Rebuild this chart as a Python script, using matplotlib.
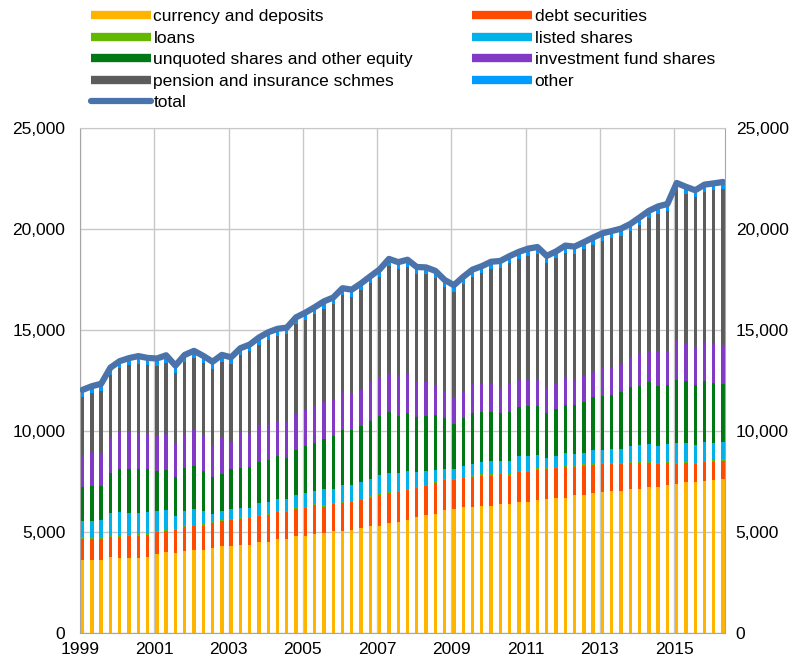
import numpy as np
import matplotlib
matplotlib.use("Agg")
import matplotlib.pyplot as plt
from matplotlib.lines import Line2D
from matplotlib.ticker import FuncFormatter, MultipleLocator

plt.rcParams['font.family'] = ['Liberation Sans', 'DejaVu Sans']

# quarterly data, 1999Q1 .. 2016Q2 (EUR billions)
years = list(range(1999, 2017, 2))

currency = [3630, 3630, 3630, 3750, 3700, 3700, 3730, 3770, 3930, 4000,
            3970, 4080, 4130, 4130, 4220, 4320, 4320, 4350, 4380, 4530,
            4530, 4670, 4670, 4800, 4830, 4930, 4970, 5080, 5080, 5130,
            5220, 5330, 5330, 5470, 5500, 5630, 5750, 5830, 5920, 6080,
            6170, 6250, 6250, 6300, 6300, 6380, 6380, 6500, 6500, 6580,
            6630, 6680, 6680, 6850, 6830, 6920, 6970, 7050, 7050, 7130,
            7130, 7250, 7250, 7330, 7380, 7470, 7470, 7520, 7580, 7630]
debt = [1050, 1030, 1030, 1020, 1070, 1100, 1100, 1100, 1070, 1070,
        1120, 1180, 1170, 1200, 1220, 1230, 1280, 1320, 1330, 1270,
        1330, 1330, 1330, 1330, 1380, 1400, 1300, 1330, 1380, 1370,
        1370, 1380, 1520, 1450, 1470, 1450, 1420, 1470, 1520, 1520,
        1430, 1420, 1500, 1500, 1500, 1500, 1420, 1470, 1470, 1520,
        1500, 1480, 1550, 1370, 1470, 1420, 1420, 1330, 1330, 1300,
        1300, 1180, 1130, 1100, 1000, 970, 920, 950, 920, 920]
loans = [60, 60, 60, 60, 60, 60, 60, 60, 60, 60,
         60, 60, 60, 60, 60, 60, 60, 60, 60, 60,
         60, 60, 60, 60, 60, 60, 60, 60, 60, 60,
         60, 60, 60, 60, 60, 60, 60, 60, 60, 60,
         60, 60, 60, 60, 60, 60, 60, 60, 60, 60,
         60, 60, 60, 60, 60, 60, 60, 60, 60, 60,
         60, 60, 60, 60, 60, 60, 60, 60, 60, 60]
listed = [810, 820, 870, 1140, 1170, 1110, 1070, 1070, 990, 960,
          660, 720, 810, 660, 390, 440, 470, 490, 440, 570,
          570, 570, 570, 640, 660, 660, 810, 690, 810, 770,
          820, 860, 940, 960, 910, 910, 740, 690, 560, 470,
          470, 540, 570, 640, 660, 610, 660, 720, 720, 640,
          490, 570, 640, 610, 570, 660, 640, 690, 690, 770,
          840, 860, 820, 860, 990, 940, 860, 940, 870, 860]
unquoted = [1670, 1750, 1700, 1950, 2130, 2170, 2170, 2130, 2000, 1970,
            1920, 2120, 2100, 2000, 1830, 1830, 2000, 1980, 2000, 2030,
            2100, 2120, 2030, 2220, 2330, 2380, 2500, 2600, 2720, 2720,
            2780, 2870, 2920, 3030, 2830, 2870, 2750, 2720, 2720, 2530,
            2250, 2400, 2530, 2470, 2450, 2370, 2450, 2430, 2520, 2470,
            2230, 2330, 2380, 2420, 2500, 2620, 2630, 2670, 2800, 2920,
            2930, 3070, 3000, 2920, 3120, 3030, 2970, 3000, 2950, 2870]
invfund = [1580, 1670, 1630, 1750, 1830, 1830, 1800, 1800, 1780, 1780,
           1670, 1720, 1780, 1750, 1620, 1830, 1330, 1750, 1720, 1830,
           1780, 1750, 1830, 1780, 1780, 1830, 1830, 1820, 1880, 1830,
           1800, 1920, 1900, 1920, 1980, 1920, 1780, 1650, 1530, 1330,
           1330, 1300, 1420, 1370, 1420, 1270, 1370, 1370, 1330, 1330,
           1270, 1250, 1330, 1250, 1320, 1300, 1420, 1330, 1420, 1450,
           1570, 1550, 1700, 1700, 1950, 1920, 1900, 2000, 1920, 1920]
pension = [2900, 2930, 3070, 3130, 3180, 3300, 3420, 3360, 3420, 3560,
           3500, 3570, 3580, 3570, 3750, 3730, 3850, 3800, 4020, 4000,
           4170, 4220, 4300, 4460, 4470, 4530, 4600, 4700, 4800, 4770,
           4930, 4900, 4980, 5300, 5270, 5290, 5280, 5350, 5270, 5150,
           5180, 5310, 5320, 5490, 5640, 5890, 5990, 5980, 6080, 6170,
           6140, 6190, 6200, 6220, 6270, 6260, 6300, 6440, 6330, 6270,
           6400, 6600, 6810, 6930, 7450, 7350, 7400, 7380, 7630, 7730]
other = [350, 340, 360, 350, 330, 350, 370, 340, 350, 360,
         350, 330, 350, 360, 350, 340, 350, 360, 340, 350,
         360, 350, 340, 350, 360, 350, 360, 340, 350, 360,
         340, 350, 360, 340, 350, 360, 350, 340, 360, 350,
         340, 360, 350, 340, 360, 350, 340, 350, 360, 350,
         360, 340, 350, 360, 340, 350, 360, 340, 350, 360,
         350, 340, 360, 350, 340, 360, 350, 360, 340, 350]

series = [
    ("currency and deposits", currency, "#FFB400"),
    ("debt securities", debt, "#FF4B00"),
    ("loans", loans, "#65B800"),
    ("listed shares", listed, "#00B1EA"),
    ("unquoted shares and other equity", unquoted, "#007816"),
    ("investment fund shares", invfund, "#8139C6"),
    ("pension and insurance schmes", pension, "#5C5C5C"),
    ("other", other, "#009BFF"),
]
total_color = "#4A73AB"

n = len(currency)
x = np.arange(n)
barw = 0.36

fig = plt.figure(figsize=(7.92, 6.61), dpi=100)
ax = fig.add_axes([0.101, 0.042, 0.814, 0.764])

bottom = np.zeros(n)
for name, vals, col in series:
    vals = np.array(vals, dtype=float)
    ax.bar(x + 0.1, vals, width=barw, bottom=bottom, color=col,
           align='edge', linewidth=0, zorder=2)
    bottom += vals
total = bottom
ax.plot(x + 0.1 + barw / 2, total, color=total_color, lw=4.5,
        solid_capstyle='round', solid_joinstyle='round', zorder=3)

ax.set_xlim(0, 69.45)
ax.set_ylim(0, 25000)
ax.yaxis.set_major_locator(MultipleLocator(5000))
ax.set_xticks([(y - 1999) * 4 for y in years])
ax.set_xticklabels([str(y) for y in years])
ax.grid(True, color="#C8C8C8", lw=1, zorder=0)
ax.set_axisbelow(True)
fmt = FuncFormatter(lambda v, p: f"{int(v):,}")
ax.yaxis.set_major_formatter(fmt)
for s in ax.spines.values():
    s.set_color("#A6A6A6")
ax.spines['top'].set_color("#C8C8C8")
ax.tick_params(axis='x', length=0, labelsize=12.5, pad=6)
ax.tick_params(axis='y', length=0, labelsize=12.5, pad=10.5)

ax2 = ax.twinx()
ax2.set_ylim(0, 25000)
ax2.yaxis.set_major_locator(MultipleLocator(5000))
ax2.yaxis.set_major_formatter(fmt)
ax2.tick_params(length=0, labelsize=12.5, pad=8)
for s in ax2.spines.values():
    s.set_visible(False)

handles = [Line2D([], [], color=col, lw=6, solid_capstyle='butt') for _, _, col in series]
labels = [name for name, _, _ in series]
handles.append(Line2D([], [], color=total_color, lw=4.5, solid_capstyle='round'))
labels.append("total")
# order as in reference: rows left/right
order = [0, 2, 4, 6, 8, 1, 3, 5, 7]
leg = fig.legend([handles[i] for i in order], [labels[i] for i in order],
                 loc='upper left', bbox_to_anchor=(0.106, 0.997), ncol=2,
                 frameon=False, fontsize=12.5, handlelength=3.45,
                 handletextpad=0.15, columnspacing=3.4, labelspacing=0.37,
                 borderaxespad=0)

fig.savefig("out.png", dpi=100)
